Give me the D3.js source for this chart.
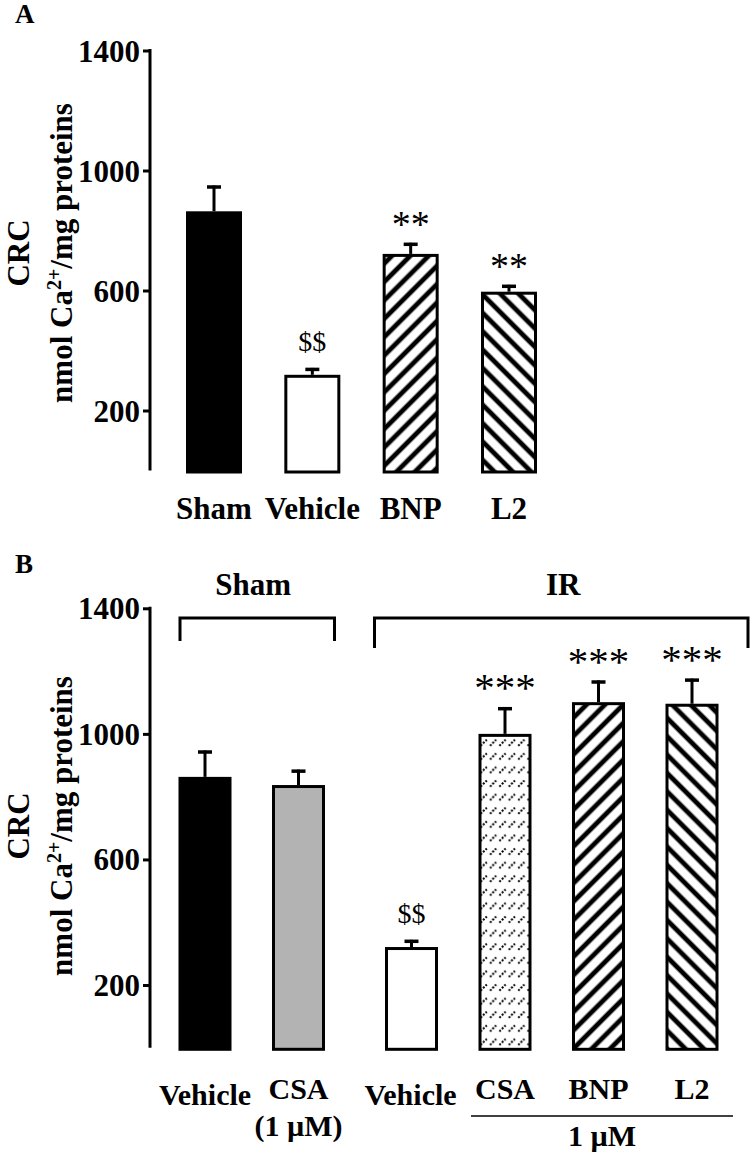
<!DOCTYPE html>
<html>
<head>
<meta charset="utf-8">
<script src="https://cdn.jsdelivr.net/npm/d3@7"></script>
<style>
  html, body { margin: 0; padding: 0; background: #fff; }
  svg { display: block; }
  text { font-family: "Liberation Serif", "Times New Roman", serif; }
</style>
</head>
<body>
<script>
// ---------- data ----------
const ticks = [200, 600, 1000, 1400];

const catsA   = ["Sham", "Vehicle", "BNP", "L2"];
const meansA  = [864, 319, 722, 596];
const errA    = [86, 23, 37, 23];
const marksA  = ["", "$$", "**", "**"];
const fillsA  = ["solid", "empty", "fwd", "back"];

const catsB   = ["Vehicle", "CSA", "Vehicle", "CSA", "BNP", "L2"];
const subB    = ["", "(1 \u00B5M)", "", "", "", ""];
const groupsB = ["Sham", "Sham", "IR", "IR", "IR", "IR"];
const meansB  = [863, 837, 321, 1000, 1101, 1096];
const errB    = [84, 49, 23, 85, 69, 80];
const marksB  = ["", "", "$$", "***", "***", "***"];
const fillsB  = ["solid", "gray", "empty", "dots", "fwd", "back"];

// ---------- svg ----------
const W = 750, H = 1154;
const svg = d3.select("body").append("svg").attr("width", W).attr("height", H);
const defs = svg.append("defs");

function stripe(id, angle) {
  const p = defs.append("pattern").attr("id", id)
    .attr("patternUnits", "userSpaceOnUse")
    .attr("width", 13).attr("height", 13)
    .attr("patternTransform", `rotate(${angle})`);
  p.append("rect").attr("width", 13).attr("height", 13).attr("fill", "#fff");
  p.append("line").attr("x1", 3).attr("x2", 3).attr("y1", -1).attr("y2", 14)
    .attr("stroke", "#000").attr("stroke-width", 4.8);
}
stripe("fwd", 45);
stripe("back", -45);
{
  const p = defs.append("pattern").attr("id", "dots")
    .attr("patternUnits", "userSpaceOnUse")
    .attr("width", 9.4).attr("height", 13.6);
  p.append("rect").attr("width", 9.4).attr("height", 13.6).attr("fill", "#fff");
  p.append("line").attr("x1", 1.2).attr("y1", 11.5).attr("x2", 7.4).attr("y2", 5.3)
    .attr("stroke", "#000").attr("stroke-width", 2).attr("stroke-dasharray", "2,1.5");
}

const fillOf = f => f === "solid" ? "#000" : f === "gray" ? "#b3b3b3" :
  f === "empty" ? "#fff" : `url(#${f})`;

const FONT = '"Liberation Serif", "Times New Roman", serif';

function yAxisTitle(g, cy) {
  g.append("text").attr("transform", `translate(29,${cy}) rotate(-90)`)
    .attr("text-anchor", "middle").attr("font-weight", "bold").attr("font-size", 31)
    .text("CRC");
  const t = g.append("text").attr("transform", `translate(72,${cy}) rotate(-90)`)
    .attr("text-anchor", "middle").attr("font-weight", "bold").attr("font-size", 31);
  t.append("tspan").text("nmol Ca");
  t.append("tspan").attr("font-size", 20).attr("dy", -11).text("2+");
  t.append("tspan").attr("dy", 11).text("/mg proteins");
}

function drawAxis(y) {
  const ax = svg.append("g").attr("transform", "translate(150,0)")
    .call(d3.axisLeft(y).tickValues(ticks).tickSize(7).tickSizeOuter(0).tickPadding(3).tickFormat(d3.format("d")));
  ax.select(".domain").attr("stroke-width", 3).attr("d", `M0,${y(0)}V${y(1400) - 1.5}`);
  ax.selectAll(".tick line").attr("stroke-width", 3);
  ax.selectAll(".tick text").attr("font-family", FONT).attr("font-weight", "bold")
    .attr("font-size", 31).attr("dy", "0.34em");
}

function drawBars(x, y, means, errs, fills, marks, bw, starSize) {
  const idx = d3.range(means.length);
  const g = svg.append("g");
  g.selectAll("line.stem").data(idx).join("line")
    .attr("x1", i => x(i)).attr("x2", i => x(i))
    .attr("y1", i => y(means[i])).attr("y2", i => y(means[i] + errs[i]))
    .attr("stroke", "#000").attr("stroke-width", 3);
  g.selectAll("line.cap").data(idx).join("line")
    .attr("x1", i => x(i) - 7).attr("x2", i => x(i) + 7)
    .attr("y1", i => y(means[i] + errs[i]) + 1.5).attr("y2", i => y(means[i] + errs[i]) + 1.5)
    .attr("stroke", "#000").attr("stroke-width", 3.5);
  g.selectAll("rect").data(idx).join("rect")
    .attr("x", i => x(i) - bw / 2 + 1.5).attr("width", bw - 3)
    .attr("y", i => y(means[i]) + 1.5).attr("height", i => y(0) - y(means[i]))
    .attr("fill", i => fillOf(fills[i])).attr("stroke", "#000").attr("stroke-width", 3);
  g.selectAll("text").data(idx.filter(i => marks[i])).join("text")
    .attr("x", i => x(i)).attr("text-anchor", "middle")
    .attr("y", i => marks[i][0] === "$" ? y(means[i] + errs[i]) - 17 : y(means[i] + errs[i]) - 6)
    .attr("font-size", i => marks[i][0] === "$" ? 28 : starSize)
    .text(i => marks[i]);
}

// ---------- Panel A ----------
svg.append("text").attr("x", 15).attr("y", 23).attr("font-weight", "bold").attr("font-size", 27).text("A");
const yA = d3.scaleLinear().domain([0, 1400]).range([470.5, 50.5]);
const xA = d3.scalePoint().domain(d3.range(catsA.length)).range([214, 509]);
drawAxis(yA);
drawBars(xA, yA, meansA, errA, fillsA, marksA, 56, 38);
svg.append("g").selectAll("text").data(catsA).join("text")
  .attr("x", (d, i) => xA(i)).attr("y", 519).attr("text-anchor", "middle")
  .attr("font-weight", "bold").attr("font-size", 31).text(d => d);
yAxisTitle(svg.append("g"), 253);

// ---------- Panel B ----------
svg.append("text").attr("x", 15).attr("y", 573).attr("font-weight", "bold").attr("font-size", 27).text("B");
const yB = d3.scaleLinear().domain([0, 1400]).range([1047.8, 608.3]);
const xLin = d3.scaleLinear().domain([0, catsB.length - 1]).range([205, 205 + 93.5 * (catsB.length - 1)]);
const xB = i => xLin(i) + (groupsB[i] === "IR" ? 19.5 : 0);
drawAxis(yB);
drawBars(xB, yB, meansB, errB, fillsB, marksB, 53, 41);

// brackets
const groupNames = ["Sham", "IR"];
const brk = svg.append("g");
groupNames.forEach(gname => {
  const ids = d3.range(catsB.length).filter(i => groupsB[i] === gname);
  const left = gname === "Sham" ? xB(ids[0]) - 25 : xB(ids[0]) - 37;
  const right = gname === "Sham" ? xB(ids[ids.length - 1]) + 36 : xB(ids[ids.length - 1]) + 56;
  const drop = gname === "Sham" ? 641 : 648;
  brk.append("path").attr("d", `M${left},${drop}V618H${right}V${drop}`)
    .attr("fill", "none").attr("stroke", "#000").attr("stroke-width", 3);
  brk.append("text").attr("x", gname === "Sham" ? (left + right) / 2 - 4 : (left + right) / 2 + 2)
    .attr("y", 595).attr("text-anchor", "middle").attr("font-weight", "bold")
    .attr("font-size", 31).text(gname);
});

// x labels B
const lb = svg.append("g");
catsB.forEach((c, i) => {
  const raised = c !== "Vehicle";
  lb.append("text").attr("x", xB(i) + (i === 2 ? -1 : 0)).attr("y", raised ? 1099 : 1105)
    .attr("text-anchor", "middle").attr("font-weight", "bold").attr("font-size", 30).text(c);
  if (subB[i]) {
    lb.append("text").attr("x", xB(i)).attr("y", 1136)
      .attr("text-anchor", "middle").attr("font-weight", "bold").attr("font-size", 30).text(subB[i]);
  }
});
const treated = d3.range(catsB.length).filter(i => groupsB[i] === "IR" && catsB[i] !== "Vehicle");
const lx0 = xB(treated[0]) - 34, lx1 = xB(treated[treated.length - 1]) + 41;
lb.append("line").attr("x1", lx0).attr("x2", lx1).attr("y1", 1116).attr("y2", 1116)
  .attr("stroke", "#000").attr("stroke-width", 1.5);
lb.append("text").attr("x", (lx0 + lx1) / 2).attr("y", 1146).attr("text-anchor", "middle")
  .attr("font-weight", "bold").attr("font-size", 30).text("1 \u00B5M");

yAxisTitle(svg.append("g"), 826);
</script>
</body>
</html>
